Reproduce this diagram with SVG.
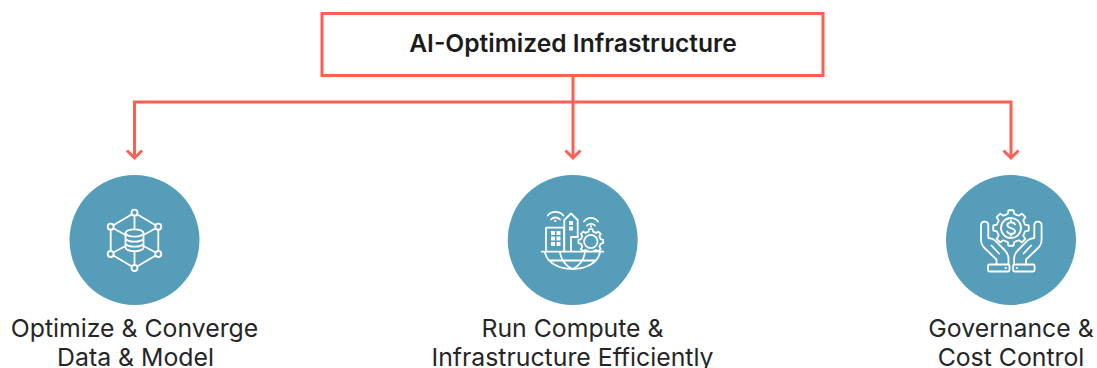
<svg xmlns="http://www.w3.org/2000/svg" width="1097" height="368" viewBox="0 0 1097 368">
<style>
.t{font-family:"Inter","Liberation Sans",sans-serif;font-size:24.8px;fill:#262626;text-anchor:middle}
.h{font-size:24.6px;font-weight:600;fill:#1c1c1c}
.c{fill:none;stroke:#fb5f55;stroke-width:3}
.d{fill:#569db9}
.i{fill:none;stroke:#fff;stroke-width:1.8;stroke-linejoin:round;stroke-linecap:round}
.w{fill:#fff}
</style>
<defs>
<path id="gear" vector-effect="non-scaling-stroke" d="M10.23 -2.36L12.87 -1.81L12.87 1.81L10.23 2.36L8.9 5.56L10.38 7.82L7.82 10.38L5.56 8.9L2.36 10.23L1.81 12.87L-1.81 12.87L-2.36 10.23L-5.56 8.9L-7.82 10.38L-10.38 7.82L-8.9 5.56L-10.23 2.36L-12.87 1.81L-12.87 -1.81L-10.23 -2.36L-8.9 -5.56L-10.38 -7.82L-7.82 -10.38L-5.56 -8.9L-2.36 -10.23L-1.81 -12.87L1.81 -12.87L2.36 -10.23L5.56 -8.9L7.82 -10.38L10.38 -7.82L8.9 -5.56Z"/>
<path id="hand" d="M996.5 264.500V259.500L984.500 248C982 245.500 981 243 981 239.500V225.500C981 220.300 988.300 220.300 988.300 225.500V238C991 238.200 993.500 238.800 995.500 240.800L1004.500 250C1007.500 253 1008.500 255.500 1008.500 258.500V264.500M991.500 245.500L999 253.500"/>
<g id="cuff"><rect x="988" y="264.500" width="21.500" height="7" rx="1.500"/><path d="M1005.500 268H1006"/></g>
<clipPath id="above"><rect x="570" y="220" width="40" height="31.700"/></clipPath>
</defs>
<rect width="1097" height="368" fill="#fff"/>
<g id="connectors">
<path class="c" d="M573 76V158"/>
<path class="c" d="M1011 158V102H134.500V158"/>
<path class="c" d="M127 150.500L134.500 158L142 150.500"/>
<path class="c" d="M565.500 150.500L573 158L580.500 150.500"/>
<path class="c" d="M1003.500 150.500L1011 158L1018.500 150.500"/>
</g>
<g id="node-root">
<rect x="322" y="13.500" width="501" height="62" fill="#fff" stroke="#fb5f55" stroke-width="3"/>
<text class="t h" x="573" y="52">AI-Optimized Infrastructure</text>
</g>
<g id="node-data">
<circle class="d" cx="134.500" cy="240" r="65"/>
<g class="i">
<circle cx="134.500" cy="212.700" r="3"/><circle cx="110.700" cy="226.700" r="3"/><circle cx="158.300" cy="226.700" r="3"/><circle cx="110.700" cy="254" r="3"/><circle cx="158.300" cy="254" r="3"/><circle cx="134.500" cy="268" r="3"/>
<path d="M132 214.200L113.300 225.200M137 214.200L155.700 225.200M110.700 229.700V251M158.300 229.700V251M113.300 255.500L132 266.500M155.700 255.500L137 266.500M134.500 215.700V228M134.500 252V265M113.300 228.200L125.500 235M155.700 228.200L143.500 235M113.300 252.500L125.500 246M155.700 252.500L143.500 246"/>
<ellipse cx="134.500" cy="233" rx="9" ry="3.600"/>
<path d="M125.500 233V247.500C125.500 249.500 129.500 251.200 134.500 251.200S143.500 249.500 143.500 247.500V233M125.500 238C125.500 240 129.500 241.700 134.500 241.700S143.500 240 143.500 238M125.500 243C125.500 245 129.500 246.700 134.500 246.700S143.500 245 143.500 243"/>
</g>
<text class="t" x="134.500" y="336.500">Optimize &amp; Converge</text>
<text class="t" x="135.500" y="365.500">Data &amp; Model</text>
</g>
<g id="node-compute">
<circle class="d" cx="572.700" cy="240" r="65"/>
<g class="i">
<path d="M541.700 251.700H603.300M545 252C546.500 262 558 269 572.500 269S598.500 262 600 252M560 252C561 260 566 266 572.500 269C579 266 584 260 585 252M549 260.500H596"/>
<path d="M564 251V227.700H546V251M564.300 251V220L571 213.500L577.700 220V236.700M571 251V237H578"/>
<path d="M547.700 215.500C551.500 210.700 559.500 210.700 563.300 215.500M551 219.500C553.500 216.800 557.500 216.800 560 219.500M584 221.500C587.800 216.700 594.200 216.700 598 221.500M587 225.500C589.200 223.200 592.800 223.200 595 225.500"/>
<circle cx="590.800" cy="241.500" r="6.700"/>
<g clip-path="url(#above)"><use href="#gear" transform="translate(590.800 241.500) scale(.96)"/></g>
</g>
<path class="w" d="M551 231h4v4h-4zM556.500 231h4v4h-4zM551 236.500h4v4h-4zM556.500 236.500h4v4h-4zM551 242h4v4h-4zM556.500 242h4v4h-4zM569 221h4v4h-4zM569 226.500h4v4h-4zM554.300 220h2v2h-2zM590 225.500h2v2h-2z"/>
<text class="t" x="572.500" y="336.500">Run Compute &amp;</text>
<text class="t" x="572.500" y="365.500">Infrastructure Efficiently</text>
</g>
<g id="node-governance">
<circle class="d" cx="1011" cy="240" r="65"/>
<g class="i">
<circle cx="1011" cy="228" r="10"/>
<use href="#gear" transform="translate(1011 228) scale(1.38)"/>
<path d="M1015 224.500C1014 221.500 1007.500 221.500 1007.300 225C1007.300 229 1015 227 1015 231.300C1014.700 234.800 1008 234.800 1007.200 231.500M1011 220.500V222M1011 234V235.500"/>
<use href="#hand"/><use href="#cuff"/>
<use href="#hand" transform="translate(2022.600 0) scale(-1 1)"/><use href="#cuff" transform="translate(2022.600 0) scale(-1 1)"/>
</g>
<text class="t" x="1011" y="336.500">Governance &amp;</text>
<text class="t" x="1011" y="365.500">Cost Control</text>
</g>
</svg>
